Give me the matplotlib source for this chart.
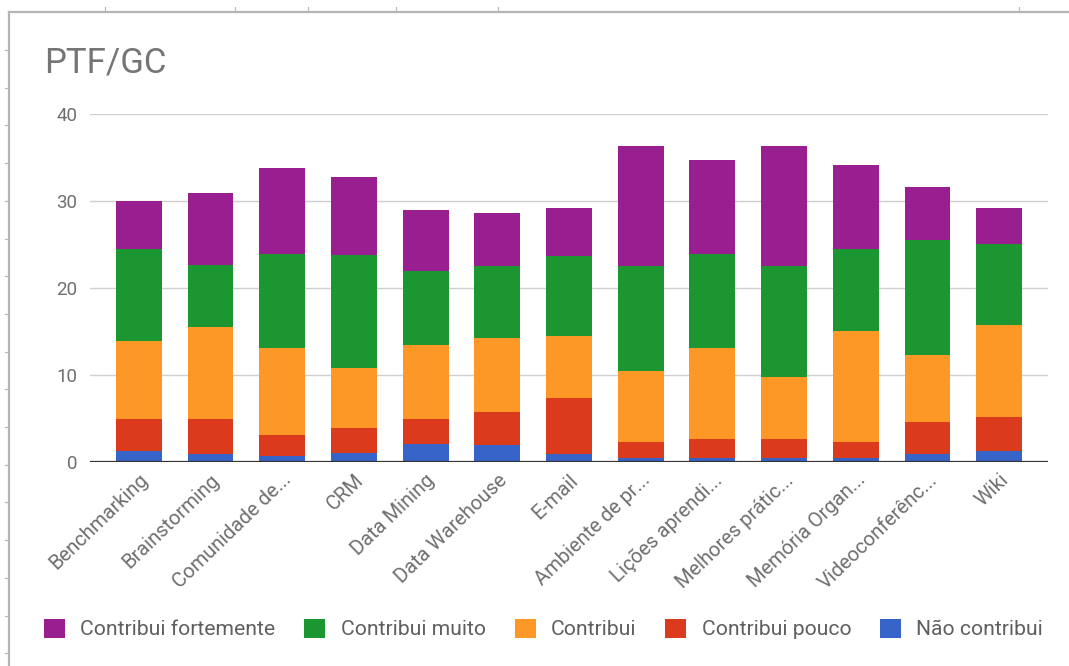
import numpy as np
import matplotlib.pyplot as plt
from matplotlib.lines import Line2D

plt.rcParams['font.family'] = ['Roboto', 'DejaVu Sans']

tools = ['Benchmarking', 'Brainstorming', 'Comunidade de...', 'CRM', 'Data Mining',
         'Data Warehouse', 'E-mail', 'Ambiente de pr...', 'Lições aprendi...',
         'Melhores prátic...', 'Memória Organ...', 'Videoconferênc...', 'Wiki']

# stacked from the bottom up
nao_contribui = [1.3, 0.9, 0.65, 1.0, 2.1, 1.9, 0.9, 0.45, 0.45, 0.45, 0.45, 0.9, 1.25]
contribui_pouco = [3.7, 4.1, 2.5, 2.9, 2.9, 3.9, 6.5, 1.85, 2.25, 2.25, 1.85, 3.65, 3.9]
contribui = [8.9, 10.5, 10.0, 6.9, 8.5, 8.5, 7.1, 8.2, 10.4, 7.1, 12.8, 7.75, 10.6]
contribui_muito = [10.6, 7.2, 10.8, 13.0, 8.4, 8.2, 9.2, 12.0, 10.8, 12.7, 9.4, 13.2, 9.35]
contribui_fortemente = [5.5, 8.2, 9.8, 9.0, 7.1, 6.1, 5.5, 13.8, 10.8, 13.8, 9.6, 6.15, 4.1]

series = [
    ('Não contribui', nao_contribui, '#3764c8'),
    ('Contribui pouco', contribui_pouco, '#db3a1d'),
    ('Contribui', contribui, '#fd9827'),
    ('Contribui muito', contribui_muito, '#1b9631'),
    ('Contribui fortemente', contribui_fortemente, '#991f91'),
]

fig = plt.figure(figsize=(10.69, 6.66), dpi=100)
ax = fig.add_axes([90 / 1069, 204 / 666, 958 / 1069, 348 / 666])

x = np.arange(len(tools))
bottom = np.zeros(len(tools))
handles = []
for name, vals, color in series:
    b = ax.bar(x, vals, width=0.64, bottom=bottom, color=color, label=name, zorder=3)
    bottom += np.array(vals)
    handles.append(b)

ax.set_xlim(-0.68, 12.68)
ax.set_ylim(0, 40)
ax.set_yticks([0, 10, 20, 30, 40])
ax.grid(axis='y', color='#d0d0d0', linewidth=1, zorder=0)
ax.axhline(0, color='#333333', linewidth=1.6, zorder=4)
for s in ax.spines.values():
    s.set_visible(False)
ax.tick_params(axis='y', length=0, pad=9, labelsize=13.5, labelcolor='#6f6f6f')
ax.tick_params(axis='x', length=0, pad=6, labelsize=14.5, labelcolor='#6f6f6f')
ax.set_xticks(x)
ax.set_xticklabels(tools, rotation=44, ha='right', rotation_mode='anchor')

fig.text(44 / 1069, 1 - 63 / 666, 'PTF/GC', fontsize=25, color='#757575', va='center')

leg = fig.legend(handles[::-1], [s[0] for s in series][::-1], ncol=5,
                 loc='center left', bbox_to_anchor=(44 / 1069, 1 - 629 / 666),
                 frameon=False, fontsize=15.2, labelcolor='#5f5f5f',
                 handlelength=1.0, handleheight=1.0, handletextpad=0.72,
                 columnspacing=1.37, borderpad=0, borderaxespad=0)

# spreadsheet frame around the chart
frame = '#b5b5b5'
fig.add_artist(Line2D([9 / 1069, 1], [1 - 12 / 666] * 2, color=frame, lw=1.6))
fig.add_artist(Line2D([9 / 1069] * 2, [0, 1 - 12 / 666], color=frame, lw=1.6))
for tx in [105, 235, 308, 396, 498, 1019]:
    fig.add_artist(Line2D([tx / 1069] * 2, [1 - 12 / 666, 1 - 7 / 666], color=frame, lw=0.8))
for ty in np.arange(50, 666, 37.7):
    fig.add_artist(Line2D([5 / 1069, 9 / 1069], [1 - ty / 666] * 2, color=frame, lw=0.8))

fig.savefig('out.png', dpi=100)
